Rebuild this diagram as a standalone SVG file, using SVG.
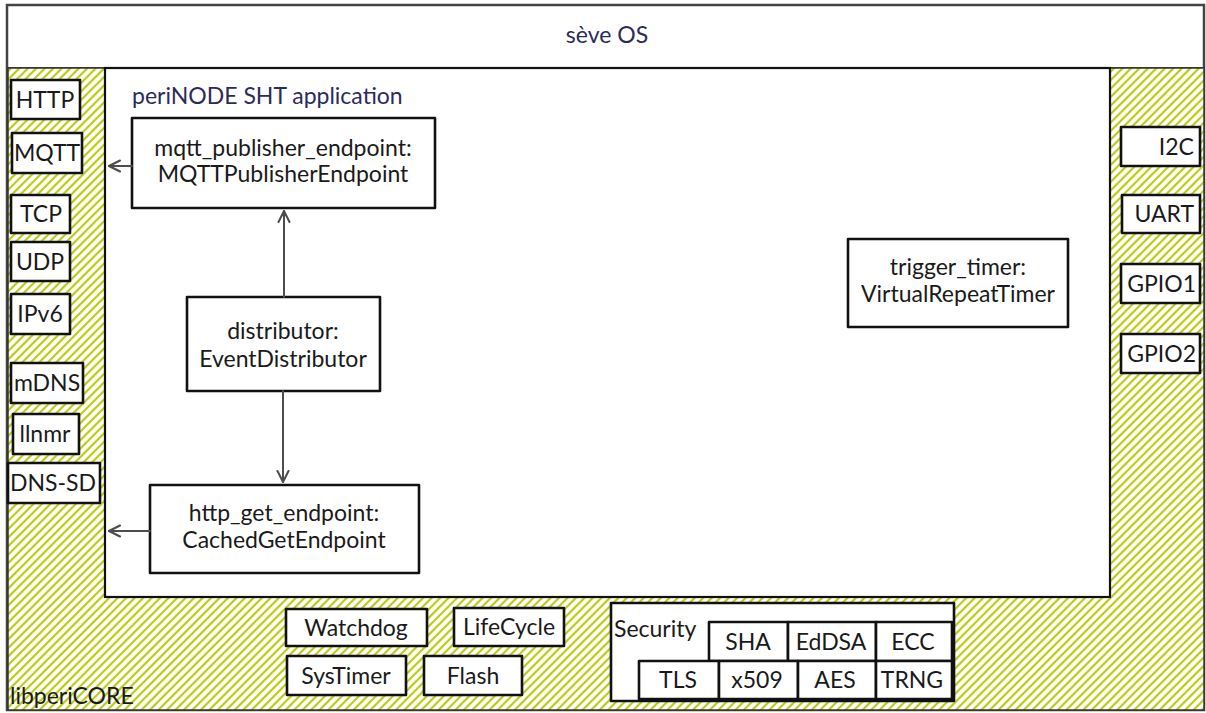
<svg xmlns="http://www.w3.org/2000/svg" width="1206" height="713" viewBox="0 0 1206 713">
  <defs>
    <!-- diagonal hatch used for the libperiCORE layer -->
    <pattern id="hatch" patternUnits="userSpaceOnUse" width="6" height="6" patternTransform="rotate(45)">
      <rect width="6" height="6" fill="#ffffff"/>
      <line x1="2" y1="0" x2="2" y2="6" stroke="#bccb12" stroke-width="2.2"/>
    </pattern>
    <marker id="open" viewBox="0 0 14 14" refX="13" refY="7" markerWidth="14" markerHeight="14" markerUnits="userSpaceOnUse" orient="auto">
      <path d="M2,1.5 L13,7 L2,12.5 M6,7 L13,7" fill="none" stroke="#4d4d4d" stroke-width="2" stroke-linejoin="round" stroke-linecap="round"/>
    </marker>
    <style>
      .box { fill: #ffffff; stroke: #111111; stroke-width: 2.6; stroke-linejoin: round; }
      .frame { fill: none; stroke: #444444; stroke-width: 2.5; }
      .lbl { font-family: Lato, "Liberation Sans", sans-serif; font-size: 23px; fill: #1a1a1a; }
      .mid { text-anchor: middle; }
      .end { text-anchor: end; }
      .title { font-family: Lato, "Liberation Sans", sans-serif; font-size: 23px; fill: #2b2b5c; }
      .conn { fill: none; stroke: #4d4d4d; stroke-width: 2; stroke-linecap: round; }
    </style>
  </defs>

  <rect width="1206" height="713" fill="#ffffff"/>

  <!-- sève OS frame -->
  <g id="seve-os">
    <rect x="7" y="5" width="1197" height="705" fill="#ffffff" class="frame"/>
    <line x1="7" y1="68" x2="1204" y2="68" stroke="#444444" stroke-width="2"/>
    <text x="607" y="43" class="title mid">sève OS</text>
  </g>

  <!-- libperiCORE hatched layer -->
  <g id="libpericore">
    <rect x="8" y="68" width="1196" height="642" fill="url(#hatch)" stroke="#333333" stroke-width="1.5"/>
    <text x="10" y="704" class="lbl">libperiCORE</text>
  </g>

  <!-- application container -->
  <g id="app">
    <rect x="105" y="68" width="1005" height="529" fill="#ffffff" stroke="#111111" stroke-width="2.2"/>
    <text x="132" y="104" class="title">periNODE SHT application</text>
  </g>

  <!-- network stack -->
  <g id="http"><rect x="11" y="80" width="69" height="39" class="box"/><text x="45" y="108" class="lbl mid">HTTP</text></g>
  <g id="mqtt"><rect x="12" y="133" width="70" height="40" class="box"/><text x="47" y="161" class="lbl mid">MQTT</text></g>
  <g id="tcp"><rect x="11" y="195" width="59" height="38" class="box"/><text x="41" y="222" class="lbl mid">TCP</text></g>
  <g id="udp"><rect x="11" y="242" width="59" height="39" class="box"/><text x="40" y="270" class="lbl mid">UDP</text></g>
  <g id="ipv6"><rect x="11" y="294" width="59" height="40" class="box"/><text x="40" y="322" class="lbl mid">IPv6</text></g>
  <g id="mdns"><rect x="11" y="363" width="72" height="40" class="box"/><text x="47" y="391" class="lbl mid">mDNS</text></g>
  <g id="llnmr"><rect x="13" y="414" width="66" height="40" class="box"/><text x="45" y="442" class="lbl mid">llnmr</text></g>
  <g id="dns-sd"><rect x="8" y="463" width="92" height="40" class="box"/><text x="53" y="491" class="lbl mid">DNS-SD</text></g>

  <!-- peripherals -->
  <g id="i2c"><rect x="1121" y="127" width="79" height="39" class="box"/><text x="1194" y="155" class="lbl end">I2C</text></g>
  <g id="uart"><rect x="1122" y="195" width="78" height="38" class="box"/><text x="1194" y="222" class="lbl end">UART</text></g>
  <g id="gpio1"><rect x="1121" y="264" width="79" height="39" class="box"/><text x="1196" y="292" class="lbl end">GPIO1</text></g>
  <g id="gpio2"><rect x="1121" y="334" width="79" height="39" class="box"/><text x="1196" y="362" class="lbl end">GPIO2</text></g>

  <!-- application objects -->
  <g id="mqtt-publisher">
    <rect x="132" y="118" width="303" height="90" class="box"/>
    <text x="283" y="156" class="lbl mid">mqtt_publisher_endpoint:</text>
    <text x="283" y="182" class="lbl mid">MQTTPublisherEndpoint</text>
  </g>
  <g id="distributor">
    <rect x="187" y="297" width="193" height="94" class="box"/>
    <text x="283" y="339" class="lbl mid">distributor:</text>
    <text x="283" y="367" class="lbl mid">EventDistributor</text>
  </g>
  <g id="http-get">
    <rect x="150" y="485" width="269" height="88" class="box"/>
    <text x="284" y="521" class="lbl mid">http_get_endpoint:</text>
    <text x="284" y="548" class="lbl mid">CachedGetEndpoint</text>
  </g>
  <g id="trigger-timer">
    <rect x="848" y="239" width="220" height="88" class="box"/>
    <text x="958" y="275" class="lbl mid">trigger_timer:</text>
    <text x="958" y="302" class="lbl mid">VirtualRepeatTimer</text>
  </g>

  <!-- system services -->
  <g id="watchdog"><rect x="286" y="609" width="141" height="37" class="box"/><text x="356" y="636" class="lbl mid">Watchdog</text></g>
  <g id="lifecycle"><rect x="454" y="608" width="110" height="38" class="box"/><text x="509" y="635" class="lbl mid">LifeCycle</text></g>
  <g id="systimer"><rect x="287" y="656" width="119" height="39" class="box"/><text x="346" y="684" class="lbl mid">SysTimer</text></g>
  <g id="flash"><rect x="424" y="656" width="98" height="39" class="box"/><text x="473" y="684" class="lbl mid">Flash</text></g>

  <!-- security block -->
  <g id="security">
    <rect x="611" y="603" width="343" height="98" class="box"/>
    <text x="614" y="637" class="lbl">Security</text>
  </g>
  <g id="sha"><rect x="709" y="622" width="79" height="39" class="box"/><text x="748" y="650" class="lbl mid">SHA</text></g>
  <g id="eddsa"><rect x="788" y="622" width="88" height="39" class="box"/><text x="831" y="650" class="lbl mid">EdDSA</text></g>
  <g id="ecc"><rect x="876" y="622" width="76" height="39" class="box"/><text x="913" y="650" class="lbl mid">ECC</text></g>
  <g id="tls"><rect x="639" y="661" width="80" height="38" class="box"/><text x="678" y="688" class="lbl mid">TLS</text></g>
  <g id="x509"><rect x="719" y="661" width="79" height="38" class="box"/><text x="757" y="688" class="lbl mid">x509</text></g>
  <g id="aes"><rect x="798" y="661" width="78" height="38" class="box"/><text x="835" y="688" class="lbl mid">AES</text></g>
  <g id="trng"><rect x="876" y="661" width="76" height="38" class="box"/><text x="912" y="688" class="lbl mid">TRNG</text></g>

  <!-- connectors -->
  <g id="connectors">
    <line x1="132" y1="166" x2="109" y2="166" class="conn" marker-end="url(#open)"/>
    <line x1="150" y1="531" x2="109" y2="531" class="conn" marker-end="url(#open)"/>
    <line x1="284" y1="297" x2="284" y2="211" class="conn" marker-end="url(#open)"/>
    <line x1="283" y1="391" x2="283" y2="482" class="conn" marker-end="url(#open)"/>
  </g>
</svg>
